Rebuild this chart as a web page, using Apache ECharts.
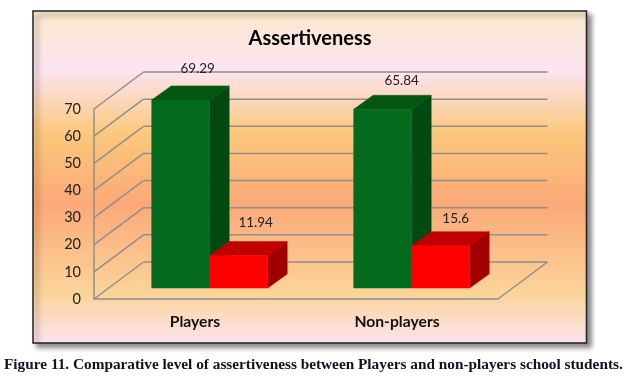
<!DOCTYPE html>
<html>
<head>
<meta charset="utf-8">
<style>html,body{margin:0;padding:0;background:#fff}#chart{width:627px;height:379px}</style>
<script src="https://cdn.jsdelivr.net/npm/echarts@6/dist/echarts.min.js"></script>
</head>
<body>
<div id="chart"></div>
<script>
var categories = ['Players', 'Non-players'];
var greenValues = [69.29, 65.84];
var redValues = [11.94, 15.6];
var yTicks = [0, 10, 20, 30, 40, 50, 60, 70];

// hand placed labels in the original, so each one gets its own nudge
var greenNudge = [[17, -31], [19, -29]];
var redNudge = [[17, -33], [15, -27]];

var BAR_W = 58;
var WALL_DX = 49.5, WALL_DY = -37;   // depth of the whole box
var BAR_DX = 19.5, BAR_DY = -14;     // depth of a bar
var SHIFT_DX = 14.7, SHIFT_DY = -11; // bars stand inside the box

var LINE = '#8f8f8f';
var FONT = 'Lato';

function poly(points, color, edge) {
  return {
    type: 'polygon',
    shape: { points: points },
    style: { fill: color, stroke: edge || color, lineWidth: 0.5 }
  };
}

function seg(x1, y1, x2, y2) {
  return {
    type: 'line',
    shape: { x1: x1, y1: y1, x2: x2, y2: y2 },
    style: { stroke: LINE, lineWidth: 1.5 }
  };
}

function renderWall(params, api) {
  var sys = params.coordSys;
  var y = api.coord([0, api.value(1)])[1];
  var left = sys.x, right = sys.x + sys.width;
  var kids = [
    seg(left, y, left + WALL_DX, y + WALL_DY),
    seg(left + WALL_DX, y + WALL_DY, right + WALL_DX, y + WALL_DY)
  ];
  if (api.value(1) === 0) {
    kids.push(seg(right, y, right + WALL_DX, y + WALL_DY));
  }
  return { type: 'group', children: kids };
}

function barRender(side, colors, labels, nudge) {
  return function (params, api) {
    var i = api.value(0);
    var top = api.coord([i, api.value(1)]);
    var base = api.coord([i, 0]);
    var x0 = top[0] + SHIFT_DX + (side < 0 ? -BAR_W : 0);
    var x1 = x0 + BAR_W;
    var yt = top[1] + SHIFT_DY;
    var yb = base[1] + SHIFT_DY;
    return {
      type: 'group',
      children: [
        poly([[x1, yt], [x1 + BAR_DX, yt + BAR_DY], [x1 + BAR_DX, yb + BAR_DY], [x1, yb]], colors.side),
        poly([[x0, yt], [x0 + BAR_DX, yt + BAR_DY], [x1 + BAR_DX, yt + BAR_DY], [x1, yt]], colors.top),
        poly([[x0, yt], [x1, yt], [x1, yb], [x0, yb]], colors.front),
        {
          type: 'text',
          style: {
            x: (x0 + x1) / 2 + nudge[i][0],
            y: yt + BAR_DY + nudge[i][1] + 14,
            text: String(labels[i]),
            fill: '#222',
            font: '13.5px ' + FONT,
            align: 'center',
            verticalAlign: 'middle'
          }
        }
      ]
    };
  };
}

var myCharts = echarts.init(document.getElementById('chart'));
var option = {
  backgroundColor: '#ffffff',
  animation: false,
  title: [
    {
      text: 'Assertiveness',
      left: 305,
      top: 24,
      textAlign: 'center',
      textStyle: { fontFamily: FONT, fontWeight: 'bold', fontSize: 20, color: '#000' }
    },
    {
      text: 'Figure 11. Comparative level of assertiveness between Players and non-players school students.',
      left: 4,
      top: 358,
      padding: 0,
      textStyle: { fontFamily: 'Liberation Serif', fontWeight: 'bold', fontSize: 15.3, color: '#111122' }
    }
  ],
  graphic: [{
    type: 'rect',
    z: -10,
    silent: true,
    shape: { x: 33, y: 11, width: 553.5, height: 332 },
    style: {
      stroke: '#222',
      lineWidth: 1.5,
      shadowBlur: 5,
      shadowOffsetX: 4,
      shadowOffsetY: 4,
      shadowColor: 'rgba(0,0,0,0.45)',
      fill: new echarts.graphic.LinearGradient(0, 0, 0, 1, [
        { offset: 0, color: '#fbe9ca' },
        { offset: 0.18, color: '#fce4f2' },
        { offset: 0.37, color: '#fcc87c' },
        { offset: 0.58, color: '#fba977' },
        { offset: 0.85, color: '#fbd49a' },
        { offset: 1, color: '#fce3ee' }
      ])
    }
  }],
  grid: { left: 94, right: 129, top: 109, bottom: 80 },
  xAxis: {
    type: 'category',
    data: categories,
    axisTick: { show: false },
    axisLine: { lineStyle: { color: LINE, width: 1.5 } },
    axisLabel: { margin: 15, color: '#111', fontFamily: FONT, fontWeight: 'bold', fontSize: 15.7 }
  },
  yAxis: {
    type: 'value',
    min: 0,
    max: 70,
    interval: 10,
    axisTick: { show: false },
    axisLine: { show: true, lineStyle: { color: LINE, width: 1.5 } },
    splitLine: { show: false },
    axisLabel: { margin: 13, color: '#222', fontFamily: FONT, fontSize: 14.5 }
  },
  series: [
    {
      type: 'custom',
      name: 'walls',
      clip: false,
      silent: true,
      renderItem: renderWall,
      data: yTicks.map(function (t) { return [0, t]; })
    },
    {
      type: 'custom',
      name: 'green',
      clip: false,
      z: 3,
      renderItem: barRender(-1, { front: '#046b1e', top: '#03570f', side: '#024a12' }, greenValues, greenNudge),
      data: greenValues.map(function (v, i) { return [i, v]; })
    },
    {
      type: 'custom',
      name: 'red',
      clip: false,
      z: 4,
      renderItem: barRender(1, { front: '#ff0000', top: '#c00000', side: '#a00000' }, redValues, redNudge),
      data: redValues.map(function (v, i) { return [i, v]; })
    }
  ]
};
myCharts.setOption(option);
</script>
</body>
</html>
